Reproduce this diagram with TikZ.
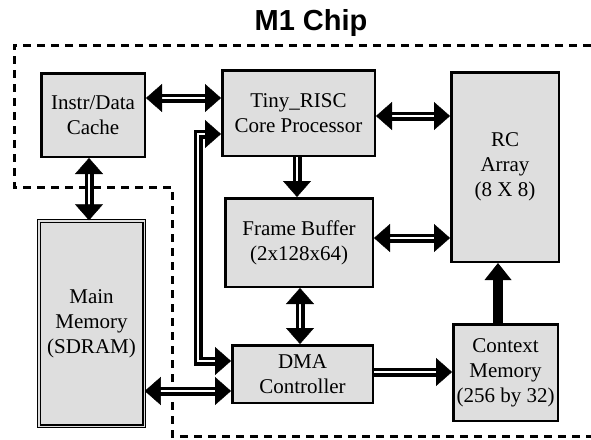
\documentclass[tikz,border=0pt]{standalone}
\usepackage{fontspec}
\setmainfont{Liberation Serif}
\newfontfamily\titlefont{Liberation Sans}
\usetikzlibrary{arrows.meta}
\begin{document}
\begin{tikzpicture}[x=1pt,y=-1pt,
  >={Triangle[length=16pt,width=28pt,color=black]},
  blk/.style={draw=black, line width=2.5pt, fill=black!13, align=center,
    inner sep=0pt, font=\fontsize{21}{25}\selectfont},
  dblk/.style={blk, line width=1.2pt, double=black!13, double distance=1.3pt},
  link/.style={draw=white, line width=0.4pt},
  dshaft/.style={draw=black, line width=3.5pt, double=white,
    double distance=2pt, line join=miter, arrows=-},
  bi/.style={link, <->, preaction={dshaft, shorten <=8pt, shorten >=8pt}},
  uni/.style={link, ->, preaction={dshaft, shorten >=8pt}},
  fatarrow/.style={draw=black, line width=10pt, -{Triangle[length=17pt,width=27pt,color=black,line width=0pt]},
    shorten >=0pt},
  chipline/.style={line width=3pt, dash pattern=on 8pt off 6pt}]
\useasboundingbox (0,0) rectangle (591,439);

% chip boundary
\draw[chipline] (591,45) -- (14,45) -- (14,187) -- (172,187) -- (172,436) -- (591,436);

\node[font=\titlefont\fontsize{29}{32}\selectfont\bfseries, anchor=base] (title) at (311,30) {M1 Chip};

% blocks
\node[blk, minimum width=103.5pt, minimum height=83.5pt] (cache) at (93,115) {Instr/Data\\Cache};
\node[blk, minimum width=152.5pt, minimum height=85.5pt] (tiny) at (298.5,113) {Tiny\_RISC\\Core Processor};
\node[blk, minimum width=107.5pt, minimum height=189.5pt] (rc) at (505,167) {RC\\Array\\(8 X 8)};
\node[blk, minimum width=147.5pt, minimum height=88.5pt] (fb) at (299,242.5) {Frame Buffer\\(2x128x64)};
\node[blk, minimum width=140.5pt, minimum height=57.5pt] (dma) at (302.5,374) {DMA\\Controller};
\node[blk, minimum width=104.5pt, minimum height=96.5pt] (ctx) at (505.5,372.5) {Context\\Memory\\(256 by 32)};
\node[dblk, minimum width=105.3pt, minimum height=205.3pt] (mem) at (91.5,323.5) {Main\\Memory\\(SDRAM)};

% rows and columns of the buses
\coordinate (yA) at (0,98);
\coordinate (yB) at (0,116);
\coordinate (yC) at (0,238);
\coordinate (yD) at (0,372);
\coordinate (yE) at (0,391);
\coordinate (xA) at (89,0);
\coordinate (xB) at (297,0);
\coordinate (xC) at (300,0);
\coordinate (xD) at (498,0);
\coordinate (lt) at (198,134);
\coordinate (lb) at (198,361);

% buses
\draw[bi] (cache.east |- yA) -- (tiny.west |- yA);
\draw[bi] (cache.south -| xA) -- (mem.north -| xA);
\draw[bi] (tiny.east |- yB) -- (rc.west |- yB);
\draw[uni] (tiny.south -| xB) -- (fb.north -| xB);
\draw[bi] (fb.east |- yC) -- (rc.west |- yC);
\draw[bi] (fb.south -| xC) -- (dma.north -| xC);
\draw[uni] (dma.east |- yD) -- (ctx.west |- yD);
\draw[fatarrow] (ctx.north -| xD) -- (rc.south -| xD);
\draw[bi] (mem.east |- yE) -- (dma.west |- yE);
\draw[bi] (dma.west |- lb) -- (lb) -- (lt) -- (tiny.west |- lt);
\end{tikzpicture}
\end{document}
